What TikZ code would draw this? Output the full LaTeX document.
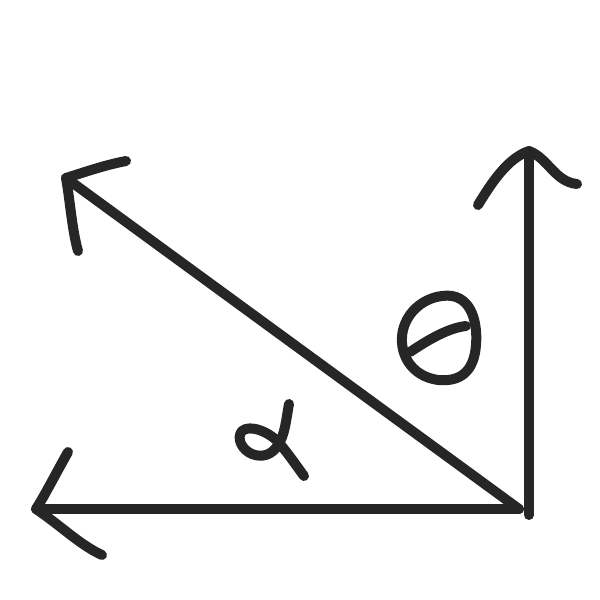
\documentclass[tikz,border=0pt]{standalone}
\begin{document}
\begin{tikzpicture}[x=1pt,y=-1pt,
  pen/.style={line width=10pt,color=black!85,line cap=round,line join=round}]
\useasboundingbox (0,0) rectangle (600,600);
\coordinate (O) at (519,509);
\coordinate (V) at (529,515);
\coordinate (L) at (36,509);
\coordinate (U) at (529,151);
\coordinate (D) at (66,178);
% shafts
\draw[pen] (O) -- (L);
\draw[pen] (V) -- (U);
\draw[pen] (O) -- (D);
% arrowheads
\draw[pen] (68,452) .. controls (55,475) and (45,495) .. (L) .. controls (60,525) and (80,545) .. (102,555);
\draw[pen] (478,205) .. controls (492,182) and (508,158) .. (U) .. controls (548,158) and (555,182) .. (577,184);
\draw[pen] (126,161) .. controls (105,165) and (85,172) .. (D) .. controls (70,200) and (72,230) .. (78,251);
% theta
\draw[pen] (442,296) .. controls (470,292) and (478,320) .. (476,345)
  .. controls (474,372) and (460,382) .. (438,380)
  .. controls (410,376) and (398,352) .. (403,330)
  .. controls (408,310) and (425,298) .. (442,296) -- cycle;
\draw[pen] (410,352) .. controls (428,340) and (448,328) .. (466,326);
% alpha
\draw[pen] (289,404) .. controls (286,420) and (285,435) .. (278,445)
  .. controls (272,455) and (262,458) .. (252,454)
  .. controls (242,450) and (236,438) .. (242,431)
  .. controls (250,424) and (270,432) .. (280,444)
  .. controls (290,456) and (298,468) .. (304,476);
\end{tikzpicture}
\end{document}
